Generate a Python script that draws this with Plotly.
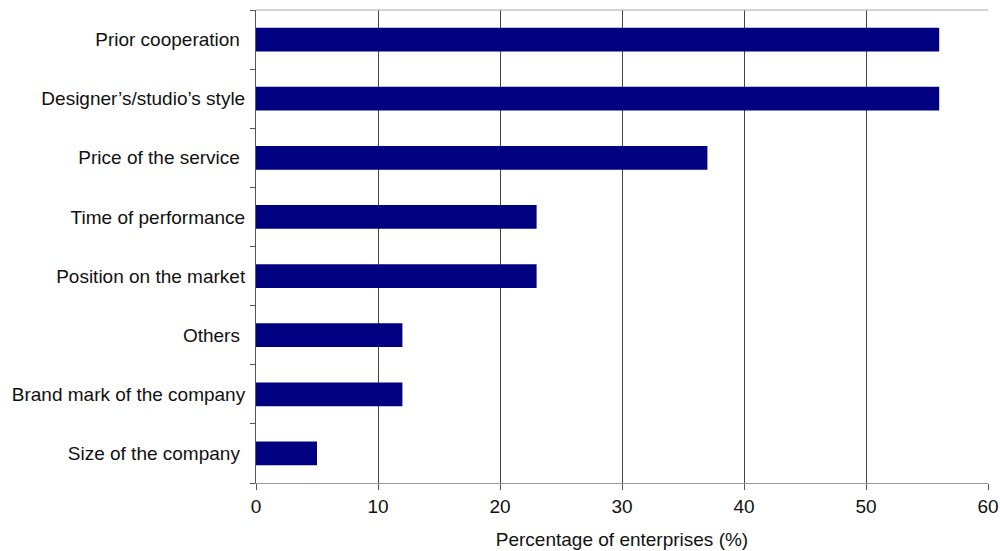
import plotly.graph_objects as go

categories = [
    "Size of the company\u00a0",
    "Brand mark of the company",
    "Others\u00a0",
    "Position on the market",
    "Time of performance",
    "Price of the service\u00a0",
    "Designer\u2019s/studio\u2019s style",
    "Prior cooperation\u00a0",
]
values = [5, 12, 12, 23, 23, 37, 56, 56]
x_ticks = [0, 10, 20, 30, 40, 50, 60]

fig = go.Figure(go.Bar(
    x=values, y=categories, orientation="h",
    marker=dict(color="#000080", line=dict(width=0)),
    width=0.4,
))

fig.update_layout(
    width=1000, height=551,
    margin=dict(l=256, r=12, t=10, b=68, autoexpand=False),
    plot_bgcolor="white", paper_bgcolor="white",
    font=dict(family="Liberation Sans, Arial, sans-serif", size=19, color="#111"),
    showlegend=False,
    bargap=0.6,
)
fig.update_xaxes(
    range=[0, 60], tickvals=x_ticks,
    showgrid=True, gridcolor="#444", gridwidth=1,
    showline=True, linecolor="#999", linewidth=1, mirror=False,
    ticks="outside", ticklen=6, tickcolor="#555",
    zeroline=False, automargin=False,
    title=dict(text="Percentage of enterprises (%)", font=dict(size=19), standoff=16),
    tickfont=dict(size=19),
)
fig.update_yaxes(
    showline=True, linecolor="#555", linewidth=1,
    ticks="outside", ticklen=5, tickcolor="#555", tickson="boundaries",
    showgrid=False, ticklabelstandoff=6, automargin=False,
    tickfont=dict(size=19),
)
# top border line
fig.add_shape(type="line", xref="paper", yref="paper", x0=0, x1=1, y0=1, y1=1,
              line=dict(color="#aaa", width=1))

fig.write_html("out.html")
